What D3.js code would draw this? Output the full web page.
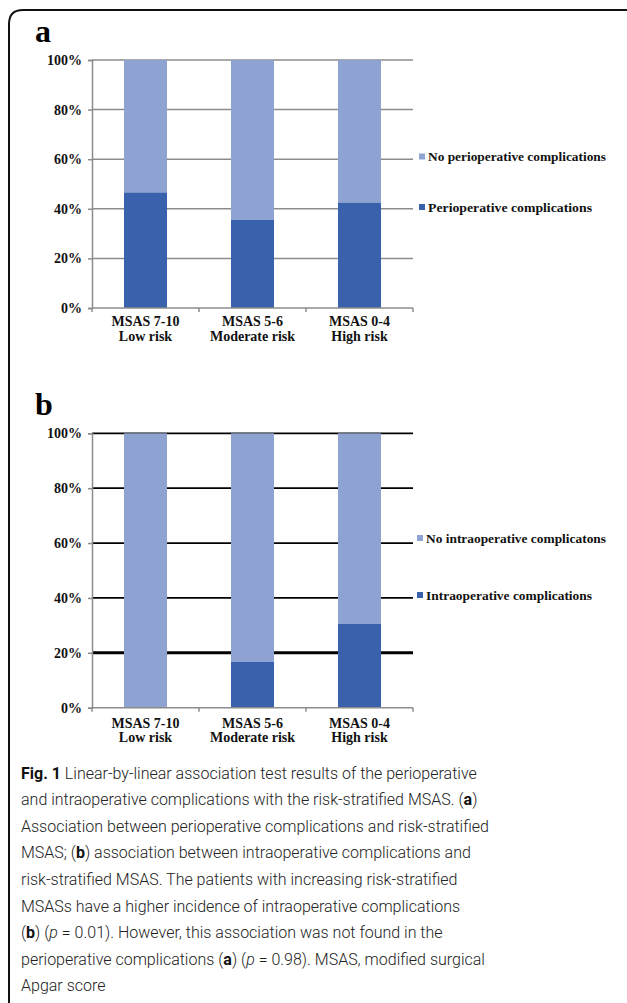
<!DOCTYPE html>
<html>
<head>
<meta charset="utf-8">
<script src="https://cdn.jsdelivr.net/npm/d3@7"></script>
<style>
  body { margin: 0; background: #fff; }
  svg { display: block; }
</style>
</head>
<body>
<div id="chart"></div>
<script>
// data
const catLine1 = ["MSAS 7-10", "MSAS 5-6", "MSAS 0-4"];
const catLine2 = ["Low risk", "Moderate risk", "High risk"];
const yTicks = [0, 20, 40, 60, 80, 100];

const periComp = [46.6, 35.5, 42.5];
const noPeriComp = [53.4, 64.5, 57.5];
const intraComp = [0, 16.7, 30.5];
const noIntraComp = [100, 83.3, 69.5];

const legendA = ["No perioperative complications", "Perioperative complications"];
const legendB = ["No intraoperative complicatons", "Intraoperative complications"];

const captionLines = [
  [["Fig. 1", "b"], [" Linear-by-linear association test results of the perioperative", ""]],
  [["and intraoperative complications with the risk-stratified MSAS. (", ""], ["a", "b"], [")", ""]],
  [["Association between perioperative complications and risk-stratified", ""]],
  [["MSAS; (", ""], ["b", "b"], [") association between intraoperative complications and", ""]],
  [["risk-stratified MSAS. The patients with increasing risk-stratified", ""]],
  [["MSASs have a higher incidence of intraoperative complications", ""]],
  [["(", ""], ["b", "b"], [") (", ""], ["p", "i"], [" = 0.01). However, this association was not found in the", ""]],
  [["perioperative complications (", ""], ["a", "b"], [") (", ""], ["p", "i"], [" = 0.98). MSAS, modified surgical", ""]],
  [["Apgar score", ""]]
];

const lightBlue = "#8fa3d3";
const darkBlue = "#3a62ac";
const serif = "'Liberation Serif', 'Times New Roman', serif";

const width = 627;
const height = 1003;

const svg = d3.select("#chart")
  .append("svg")
  .attr("width", width)
  .attr("height", height);

// frame (rounded top-left corner, open to the right/bottom)
svg.append("path")
  .attr("d", "M9,1003 L9,24 Q9,10 23,10 L627,10")
  .attr("fill", "none")
  .attr("stroke", "#111")
  .attr("stroke-width", 2);

// draw one stacked panel
function drawPanel(cfg) {
  const g = svg.append("g");

  const x = d3.scaleBand()
    .domain(catLine1)
    .range([92, 413])
    .paddingInner(0.598)
    .paddingOuter(0.299);

  const y = d3.scaleLinear().domain([0, 100]).range([cfg.bottom, cfg.top]);

  // panel letter
  svg.append("text")
    .attr("x", 35)
    .attr("y", cfg.letterY)
    .attr("font-family", serif)
    .attr("font-weight", "bold")
    .style("font-size", "32px")
    .text(cfg.letter);

  // gridlines
  g.selectAll("line.grid")
    .data(yTicks.filter(d => d > 0))
    .join("line")
    .attr("class", "grid")
    .attr("x1", 92)
    .attr("x2", 413)
    .attr("y1", d => y(d))
    .attr("y2", d => y(d))
    .attr("stroke", cfg.gridColor)
    .attr("stroke-width", d => (cfg.thick && d === cfg.thick ? 3 : cfg.gridWidth));

  // bars
  const rows = catLine1.map((c, i) => ({ cat: c, low: cfg.lower[i], up: cfg.upper[i] }));

  g.selectAll("rect.upper")
    .data(rows)
    .join("rect")
    .attr("class", "upper")
    .attr("x", d => x(d.cat))
    .attr("width", x.bandwidth())
    .attr("y", d => y(d.low + d.up))
    .attr("height", d => y(d.low) - y(d.low + d.up))
    .attr("fill", lightBlue);

  g.selectAll("rect.lower")
    .data(rows)
    .join("rect")
    .attr("class", "lower")
    .attr("x", d => x(d.cat))
    .attr("width", x.bandwidth())
    .attr("y", d => y(d.low))
    .attr("height", d => y(0) - y(d.low))
    .attr("fill", darkBlue);

  // y axis
  const yAxis = d3.axisLeft(y)
    .tickValues(yTicks)
    .tickSize(4)
    .tickPadding(6)
    .tickFormat(d => d + "%");

  const yAxisG = g.append("g")
    .attr("transform", "translate(92,0)")
    .call(yAxis);
  yAxisG.select(".domain").attr("stroke", "#8c8c8c").attr("stroke-width", 1.5);
  yAxisG.selectAll(".tick line").attr("stroke", "#8c8c8c").attr("stroke-width", 1.5);
  yAxisG.selectAll(".tick text")
    .attr("font-family", serif)
    .attr("font-weight", "bold")
    .attr("fill", "#111")
    .style("font-size", "14px");

  // x axis with boundary ticks
  const step = x.step();
  const edges = catLine1.map(c => x(c) - (step - x.bandwidth()) / 2);
  edges.push(413);

  g.append("line")
    .attr("x1", 92)
    .attr("x2", 413)
    .attr("y1", y(0))
    .attr("y2", y(0))
    .attr("stroke", "#8c8c8c")
    .attr("stroke-width", 1.5);

  g.selectAll("line.xtick")
    .data(edges)
    .join("line")
    .attr("class", "xtick")
    .attr("x1", d => d)
    .attr("x2", d => d)
    .attr("y1", y(0))
    .attr("y2", y(0) + 4)
    .attr("stroke", "#8c8c8c")
    .attr("stroke-width", 1.5);

  const labels = g.selectAll("text.xlab")
    .data(catLine1.map((c, i) => [c, catLine2[i]]))
    .join("text")
    .attr("class", "xlab")
    .attr("text-anchor", "middle")
    .attr("font-family", serif)
    .attr("font-weight", "bold")
    .attr("fill", "#111")
    .style("font-size", "14px");

  labels.append("tspan")
    .attr("x", d => x(d[0]) + x.bandwidth() / 2)
    .attr("y", y(0) + cfg.labelOffset)
    .text(d => d[0]);
  labels.append("tspan")
    .attr("x", d => x(d[0]) + x.bandwidth() / 2)
    .attr("y", y(0) + cfg.labelOffset + 14.5)
    .text(d => d[1]);

  // legend
  const leg = g.selectAll("g.leg")
    .data(cfg.legend)
    .join("g")
    .attr("class", "leg")
    .attr("transform", (d, i) => `translate(${cfg.legX},${cfg.legY[i]})`);

  leg.append("rect")
    .attr("x", 0)
    .attr("y", -3)
    .attr("width", 6)
    .attr("height", 6)
    .attr("fill", (d, i) => (i === 0 ? lightBlue : darkBlue));

  leg.append("text")
    .attr("x", 9)
    .attr("y", 4.5)
    .attr("font-family", serif)
    .attr("font-weight", "bold")
    .attr("fill", "#111")
    .attr("textLength", (d, i) => cfg.legW[i])
    .attr("lengthAdjust", "spacingAndGlyphs")
    .style("font-size", "13px")
    .text(d => d);
}

drawPanel({
  letter: "a",
  letterY: 42,
  top: 60,
  bottom: 308,
  lower: periComp,
  upper: noPeriComp,
  gridColor: "#8c8c8c",
  gridWidth: 1.5,
  thick: null,
  labelOffset: 18,
  legend: legendA,
  legX: 419,
  legY: [156.5, 207],
  legW: [178, 164]
});

drawPanel({
  letter: "b",
  letterY: 415,
  top: 433.3,
  bottom: 707.7,
  lower: intraComp,
  upper: noIntraComp,
  gridColor: "#000",
  gridWidth: 1.8,
  thick: 20,
  labelOffset: 20,
  legend: legendB,
  legX: 417,
  legY: [538, 595],
  legW: [180, 166]
});

// caption
const cap = svg.append("g")
  .attr("font-family", "Roboto, 'Open Sans', sans-serif")
  .attr("font-weight", 300)
  .attr("fill", "#222")
  .style("font-size", "16px");

cap.selectAll("text")
  .data(captionLines)
  .join("text")
  .attr("x", 21)
  .attr("y", (d, i) => 778.5 + i * 26.6)
  .each(function (parts) {
    const t = d3.select(this);
    parts.forEach(([s, st]) => {
      t.append("tspan")
        .attr("font-weight", st === "b" ? "bold" : null)
        .attr("font-style", st === "i" ? "italic" : null)
        .attr("fill", st === "b" ? "#111" : null)
        .text(s);
    });
  });
</script>
</body>
</html>
